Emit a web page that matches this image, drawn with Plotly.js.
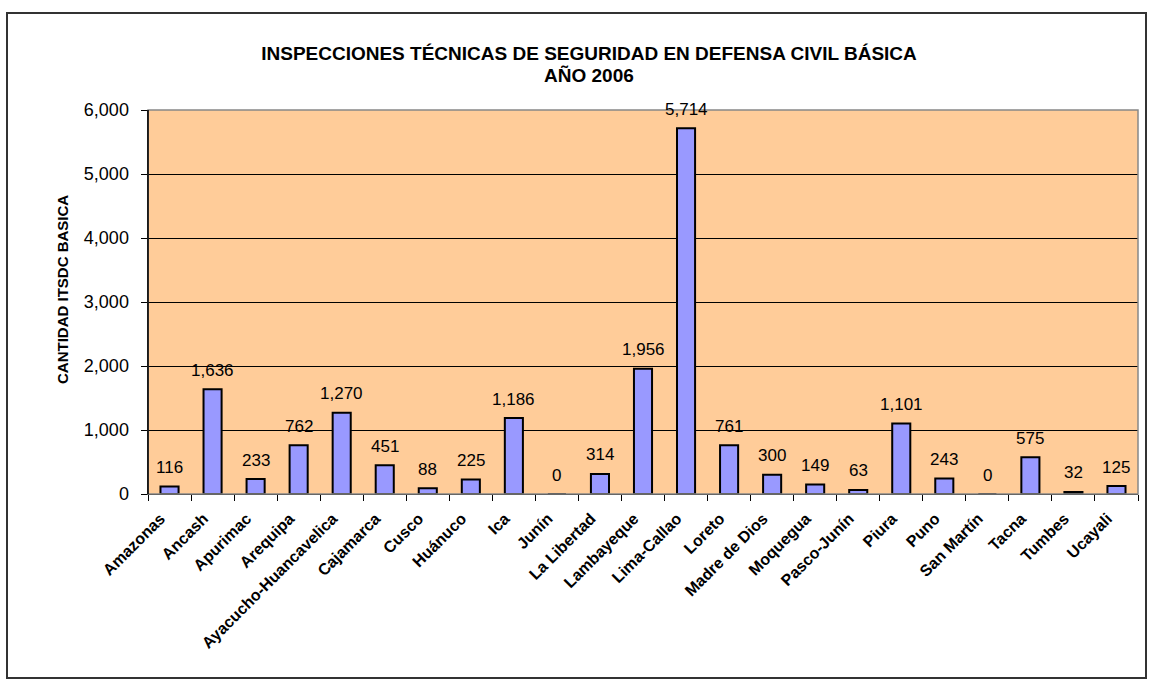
<!DOCTYPE html>
<html><head><meta charset="utf-8">
<script src="https://cdn.plot.ly/plotly-3.0.1.min.js"></script>
<style>html,body{margin:0;padding:0;background:#fff}#chart{width:1154px;height:686px}</style>
</head><body><div id="chart"></div>
<script>
const categories = ["Amazonas","Ancash","Apurimac","Arequipa","Ayacucho-Huancavelica","Cajamarca","Cusco","Huánuco","Ica","Junín","La Libertad","Lambayeque","Lima-Callao","Loreto","Madre de Dios","Moquegua","Pasco-Junín","Piura","Puno","San Martín","Tacna","Tumbes","Ucayali"];
const values = [116,1636,233,762,1270,451,88,225,1186,0,314,1956,5714,761,300,149,63,1101,243,0,575,32,125];
const tickVals = [0,1000,2000,3000,4000,5000,6000];
const tickText = ["0","1,000","2,000","3,000","4,000","5,000","6,000"];
const titleLine1 = "<b>INSPECCIONES TÉCNICAS DE SEGURIDAD EN DEFENSA CIVIL BÁSICA</b>";
const titleLine2 = "<b>AÑO 2006</b>";
const yTitle = "<b>CANTIDAD ITSDC BASICA</b>";

const W = 1154, H = 686, L = 148, R = 16, T = 110, B = 192;
const PW = W - L - R, PH = H - T - B;
const FONT = "Liberation Sans, Arial, sans-serif";
const px = x => (x - L) / PW;
const py = y => (H - B - y) / PH;

const trace = {
  type: "bar", x: categories, y: values,
  marker: {color: "#9999FF", line: {color: "#000", width: 2}},
  hoverinfo: "none"
};
const labelAnns = categories.map((c, i) => ({
  x: c, y: values[i], xref: "x", yref: "y",
  text: values[i].toLocaleString("en-US"), showarrow: false,
  yanchor: "middle", yshift: 19,
  font: {family: FONT, size: 17, color: "#000"}
}));
const layout = {
  width: W, height: H,
  margin: {l: L, r: R, t: T, b: B},
  paper_bgcolor: "#fff", plot_bgcolor: "#FFCC99",
  bargap: 0.58, showlegend: false,
  font: {family: FONT, color: "#000"},
  title: {text: titleLine1, font: {size: 19, family: FONT, color: "#000"},
          xref: "container", x: 589 / W, xanchor: "center", yref: "container", y: 1 - 53 / H, yanchor: "middle"},
  xaxis: {type: "category", tickangle: -45, tickson: "boundaries", ticks: "outside", ticklen: 6,
          tickcolor: "#000", showline: true, linecolor: "#000", linewidth: 1, showgrid: false,
          ticklabelshift: -9, ticklabelstandoff: 8,
          tickfont: {size: 16, family: FONT, weight: "bold"}, automargin: false},
  yaxis: {range: [0, 6000], tickvals: tickVals, ticktext: tickText, ticks: "outside", ticklen: 6,
          tickcolor: "#000", showline: true, linecolor: "#000", linewidth: 1.5, ticklabelstandoff: 8,
          showgrid: true, gridcolor: "#000", gridwidth: 1, zeroline: false,
          tickfont: {size: 18, family: FONT}, automargin: false},
  annotations: labelAnns.concat([
    {text: titleLine2, xref: "paper", yref: "paper", x: px(589), y: py(75),
     showarrow: false, xanchor: "center", yanchor: "middle",
     font: {size: 19, family: FONT, color: "#000"}},
    {text: yTitle, xref: "paper", yref: "paper", x: px(62), y: py(290),
     textangle: -90, showarrow: false, xanchor: "center", yanchor: "middle",
     font: {size: 15, family: FONT, color: "#000"}}
  ]),
  shapes: [
    {type: "rect", xref: "paper", yref: "paper", x0: 0, x1: 1, y0: 0, y1: 1, line: {color: "#888", width: 1.5}, layer: "above"},
    {type: "line", xref: "paper", yref: "paper", x0: 0, x1: 0, y0: 0, y1: 1, line: {color: "#000", width: 1.5}, layer: "above"},
    {type: "rect", xref: "paper", yref: "paper",
     x0: px(7), x1: px(1146), y0: py(678), y1: py(13),
     line: {color: "#333", width: 2}}
  ]
};
Plotly.newPlot("chart", [trace], layout, {displayModeBar: false, staticPlot: true});
</script></body></html>
